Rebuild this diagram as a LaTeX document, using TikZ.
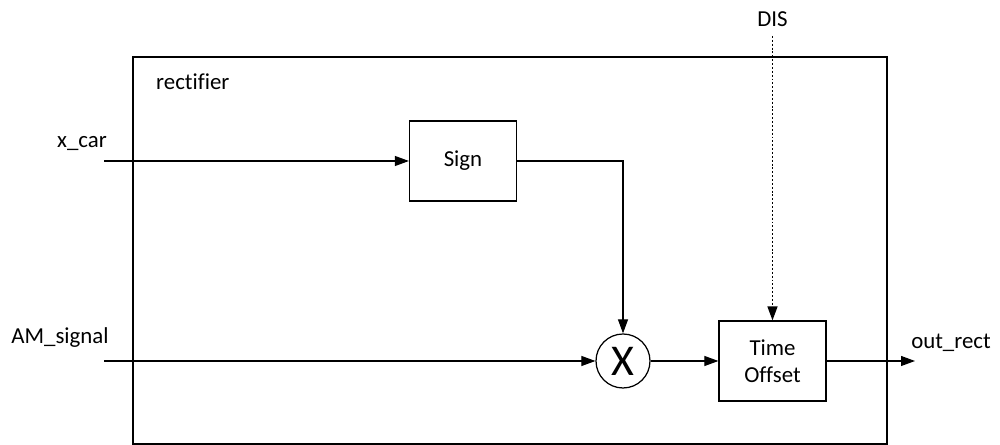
\documentclass[tikz,border=0pt]{standalone}
\usepackage{fontspec}
\setmainfont[Ligatures=NoCommon]{Carlito}
\usetikzlibrary{arrows.meta}
\tikzset{
  blk/.style={draw, line width=0.7pt, minimum width=2.14cm, minimum height=1.6cm, align=center, inner sep=0pt},
  sig/.style={line width=0.6pt, -{Triangle[length=2.8mm,width=2mm]}},
}
\begin{document}
\begin{tikzpicture}[font=\fontsize{13}{15.5}\selectfont]
    \useasboundingbox (0,0) rectangle (20,8.9);
    \coordinate (boxNW) at (2.66,7.76);
    \coordinate (boxSE) at (17.74,0.01);
    \coordinate (xin) at (2.08,5.68);
    \coordinate (amin) at (2.08,1.68);
    \coordinate (disin) at (15.45,8.18);
    \coordinate (outend) at (18.3,1.68);
    \draw[line width=1.6pt] (boxNW) rectangle (boxSE);
    \node[anchor=west] (title) at (3.0,7.26) {rectifier};
    \node[blk] (sign) at (9.26,5.68) {Sign};
    \node[draw, circle, line width=0.7pt, minimum size=1.08cm, inner sep=0pt, font=\fontsize{25}{26}\selectfont] (mult) at (12.46,1.68) {X};
    \node[blk] (offset) at (15.45,1.68) {Time\\Offset};
    % Ein- und Ausgaenge
    \node (xlab) at (1.64,6.04) {x\_car};
    \node (amlab) at (1.2,2.14) {AM\_signal};
    \node (dislab) at (15.45,8.52) {DIS};
    \node (outlab) at (19.02,2.04) {out\_rect};
    \draw[sig] (xin) -- (sign);
    \draw[sig] (sign.east) -| (mult.north);
    \draw[sig] (amin) -- (mult);
    \draw[sig] (mult) -- (offset);
    \draw[sig, line width=0.9pt, dash pattern=on 1.1pt off 1.1pt] (disin) -- (offset);
    \draw[sig] (offset) -- (outend);
\end{tikzpicture}
\end{document}
